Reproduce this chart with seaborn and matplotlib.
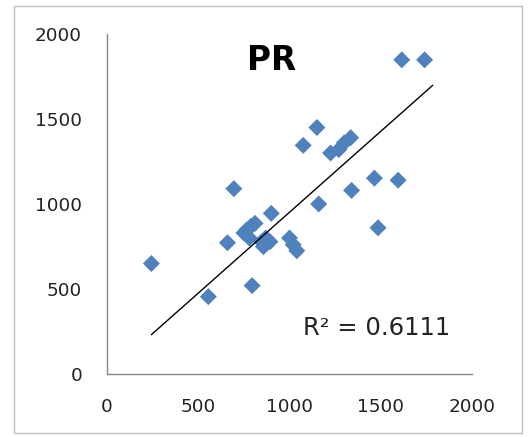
import matplotlib
matplotlib.use("Agg")
import matplotlib.pyplot as plt
from matplotlib.patches import Rectangle
import numpy as np
import pandas as pd
import seaborn as sns

# Observed vs. predicted values for the PR series
x_vals = [243, 555, 660, 695, 795, 750, 765, 790, 811, 780, 847, 857, 893, 870,
          900, 1000, 1020, 1040, 1075, 1150, 1160, 1225, 1270, 1300, 1335, 1340,
          1465, 1485, 1595, 1615, 1740]
y_vals = [650, 455, 772, 1090, 520, 830, 847, 870, 886, 800, 778, 749, 778, 800,
          945, 800, 760, 725, 1345, 1450, 1000, 1300, 1320, 1360, 1390, 1080,
          1152, 860, 1140, 1848, 1848]
tick_vals = [0, 500, 1000, 1500, 2000]
title_text = "PR"
r2_text = "R\u00b2 = 0.6111"

df = pd.DataFrame({"x": x_vals, "y": y_vals})

sns.set_style("white")
plt.rcParams["font.family"] = ["DejaVu Sans"]

fig = plt.figure(figsize=(5.28, 4.37), dpi=100)
ax = fig.add_axes([0.2027, 0.1442, 0.6913, 0.778])

sns.scatterplot(data=df, x="x", y="y", marker="D", s=75, color="#4F81BD",
                edgecolor="none", ax=ax, zorder=3)

# Linear trend line with the intercept fixed at zero, projected a little
# past the last observation
xa = np.asarray(x_vals, dtype=float)
ya = np.asarray(y_vals, dtype=float)
slope = (xa * ya).sum() / (xa * xa).sum()
forecast_forward = 45
line_x = np.array([xa.min(), xa.max() + forecast_forward])
sns.lineplot(x=line_x, y=slope * line_x, color="black", lw=1.0, ax=ax,
             zorder=4)

ax.set_xlim(0, 2000)
ax.set_ylim(0, 2000)
ax.set_xticks(tick_vals)
ax.set_yticks(tick_vals)
ax.set_xlabel("")
ax.set_ylabel("")

for side in ("top", "right"):
    ax.spines[side].set_visible(False)
for side in ("left", "bottom"):
    ax.spines[side].set_color("#888888")
    ax.spines[side].set_linewidth(1.0)

ax.tick_params(axis="both", direction="out", length=5, width=1.0,
               color="#888888", labelsize=13.2, labelcolor="#222222")
ax.tick_params(axis="y", pad=13)
ax.tick_params(axis="x", pad=12)

ax.text(902, 1847, title_text, fontsize=23.5, fontweight="bold",
        ha="center", va="center", color="black")
ax.text(1478, 270, r2_text, fontsize=17.5, ha="center", va="center",
        color="#222222")

fig.patches.append(Rectangle((0.0265, 0.009), 0.962, 0.977,
                             transform=fig.transFigure, fill=False,
                             edgecolor="#BFBFBF", lw=1.0))

fig.savefig("out.png", dpi=100)
